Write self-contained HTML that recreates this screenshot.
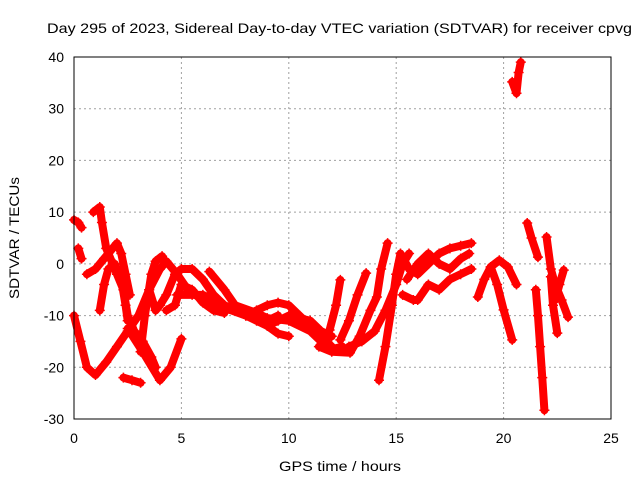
<!DOCTYPE html>
<html><head><meta charset="utf-8"><style>
body{margin:0;background:#fff;}
svg{display:block;font-family:"Liberation Sans",sans-serif;}
</style></head><body>
<svg id="chart" width="640" height="480" viewBox="0 0 640 480">
<rect width="640" height="480" fill="#fff"/>
<text x="47" y="33" font-size="14" textLength="585" lengthAdjust="spacingAndGlyphs" fill="#000">Day 295 of 2023, Sidereal Day-to-day VTEC variation (SDTVAR) for receiver cpvg</text>
<text transform="translate(19,238) rotate(-90)" font-size="14" text-anchor="middle" textLength="122" lengthAdjust="spacingAndGlyphs">SDTVAR / TECUs</text>
<text x="340" y="471" font-size="14" text-anchor="middle" textLength="122" lengthAdjust="spacingAndGlyphs">GPS time / hours</text>
<g id="grid"></g><g id="ticks"></g><g id="marks"></g>
<rect x="74" y="57" width="537" height="362" fill="none" stroke="#000" stroke-width="1"/>
</svg>
<script>
const xTicks=[0,5,10,15,20,25];
const yTicks=[-30,-20,-10,0,10,20,30,40];
const tracks=[
[[0,-10],[0.3,-15],[0.6,-20],[1,-21.5],[1.5,-19],[2,-16],[2.5,-13],[3,-10],[3.5,-5],[4,-1],[4.3,0.5],[4.8,-2],[5.3,-5],[6,-7],[7,-8.5],[8,-10],[9,-11],[9.5,-10]],
[[2.5,-12.5],[3.2,-17],[4,-22.5],[4.5,-20],[5,-14.5]],
[[2.3,-22],[2.7,-22.5],[3.1,-23]],
[[3.1,-17],[3.3,-10],[3.6,-2],[3.8,0.5],[4.1,1.5]],
[[0.9,10],[1.2,11],[1.3,8],[1.5,3],[1.8,0],[2,-2],[2.3,-5],[2.5,-10],[2.8,-13],[3.2,-15],[3.6,-18],[3.8,-20]],
[[0,8.5],[0.2,8],[0.35,7]],
[[0.2,3],[0.35,1]],
[[0.6,-2],[1,-1],[1.4,1],[1.8,3],[2,4],[2.2,2],[2.4,-2],[2.6,-6]],
[[1.2,-9],[1.4,-4],[1.6,-1],[1.9,0],[2.2,-3],[2.4,-8],[2.5,-11]],
[[3.5,-5],[3.8,-9],[4,-8],[4.3,-6],[4.7,-2],[5,-1],[5.5,-1],[6,-3],[6.5,-6],[7,-8],[7.5,-9],[8,-10],[8.5,-9],[9,-8],[9.5,-7.5],[10,-8],[10.5,-10],[11,-12],[11.5,-14],[12,-16]],
[[4.8,-6],[5.5,-6],[6,-6],[6.5,-7],[7,-8],[8,-10],[8.5,-11],[9,-12],[9.5,-13.5],[10,-14]],
[[4.3,-9],[4.7,-8],[5,-4],[5.5,-5],[6,-7.5],[6.5,-9],[7,-9.5]],
[[6.3,-1.5],[7,-5],[7.5,-8],[8.5,-9.5],[9,-10.5],[10,-11],[11,-13],[11.5,-15],[12,-16.5],[12.5,-16]],
[[9,-12],[9.5,-11],[10,-10],[11,-11],[11.5,-13],[12,-14]],
[[11.9,-12.8],[12.2,-8],[12.4,-3.1]],
[[12.4,-14.7],[12.8,-11],[13.2,-6],[13.6,-1.8]],
[[11.4,-16],[12,-17],[12.85,-17.2],[13.3,-14],[13.8,-9],[14.1,-6.4],[14.3,-1],[14.6,4]],
[[12.8,-16],[13.4,-15],[14,-13],[14.5,-9],[15,-4],[15.3,0],[15.6,2]],
[[14.2,-22.5],[14.5,-16],[14.8,-8],[15,-2],[15.2,2],[15.6,-1],[16,-2],[16.5,0],[17,2],[17.5,3],[18,3.5],[18.5,4]],
[[15.3,-6],[15.8,-7],[16,-7],[16.5,-4],[17,-5],[17.5,-3],[18,-2],[18.5,-1]],
[[15.5,-3],[16,0],[16.5,2],[17,0],[17.5,-1],[18,1],[18.4,2]],
[[18.8,-6.4],[19.1,-3],[19.4,-0.6],[19.8,0.7],[20.2,-0.6],[20.6,-4]],
[[19.4,-0.6],[19.7,-4],[20,-8.9],[20.4,-14.7]],
[[20.4,35.2],[20.6,33],[20.7,37],[20.8,39]],
[[21.1,7.9],[21.3,5],[21.6,1.3]],
[[21.5,-5],[21.6,-10],[21.7,-16],[21.8,-22],[21.9,-28.3]],
[[22,5.2],[22.2,-1],[22.4,-4],[22.7,-7],[23,-10.3]],
[[22.8,-1.2],[22.6,-4],[22.4,-7]],
[[22.2,-2.5],[22.3,-8],[22.5,-13.4]]
];
const NS='http://www.w3.org/2000/svg';
const X=t=>74+t*537/25, Y=v=>57+(40-v)*362/70;
const grid=document.getElementById('grid'),ticks=document.getElementById('ticks'),marks=document.getElementById('marks');
function mk(tag,a,p){const e=document.createElementNS(NS,tag);for(const k in a)e.setAttribute(k,a[k]);p.appendChild(e);return e;}
xTicks.forEach(t=>{
 if(t>0&&t<25){const g=mk('line',{x1:X(t),x2:X(t),y1:57,y2:419,stroke:'#a0a0a0','stroke-dasharray':'2,3'},grid);
 
 }
 const l=mk('text',{x:X(t),y:443,'font-size':14,'text-anchor':'middle'},ticks);l.textContent=t;
 
 
});
yTicks.forEach(v=>{
 if(v>-30&&v<40){const g=mk('line',{x1:74,x2:611,y1:Y(v),y2:Y(v),stroke:'#a0a0a0','stroke-dasharray':'2,3'},grid);
 
 }
 const l=mk('text',{x:64,y:Y(v)+5,'font-size':14,'text-anchor':'end'},ticks);l.textContent=v;
 
 
});
tracks.forEach(tr=>{
 const p=mk('polyline',{points:tr.map(d=>X(d[0])+','+Y(d[1])).join(' '),fill:'none',stroke:'#ff0000','stroke-width':8,'stroke-linejoin':'round','stroke-linecap':'round'},marks);
 
 
 tr.forEach(d=>{
  const m=mk('path',{d:`M${X(d[0])-5},${Y(d[1])}h10M${X(d[0])},${Y(d[1])-5}v10`,stroke:'#ff0000','stroke-width':1.5},marks);
  
  
 });
});
</script>
</body></html>
